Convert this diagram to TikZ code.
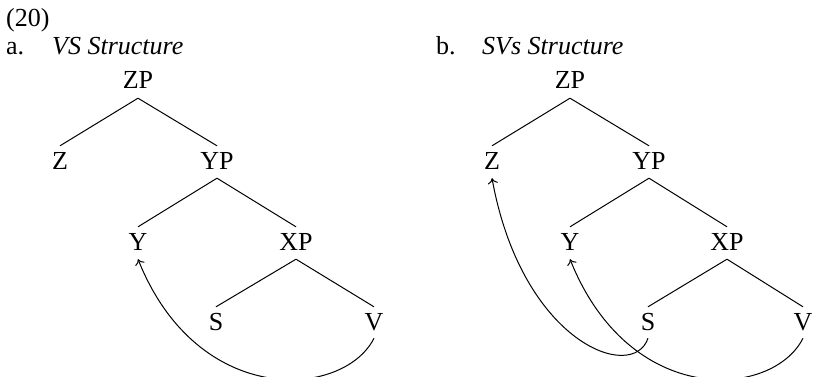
\documentclass[tikz,border=0pt]{standalone}
\usepackage{fontspec}
\setmainfont{Liberation Serif}
\usetikzlibrary{arrows.meta}
\begin{document}
\begin{tikzpicture}[x=1pt,y=-1pt,
  every node/.style={font=\fontsize{26}{31}\selectfont},
  lbl/.style={anchor=base, inner sep=0pt, text height=17pt, text depth=0pt},
  txt/.style={anchor=base west, inner sep=0pt},
  branch/.style={line width=1pt},
  move/.style={line width=1pt, -{To[length=5.5pt,width=10pt]}}]
\useasboundingbox (0,0) rectangle (814,377);
% headings
\node[txt] (num) at (6,27) {(20)};
\node[txt] (la) at (6,55) {a.};
\node[txt] (ta) at (52,55) {\itshape VS Structure};
\node[txt] (lb) at (436,55) {b.};
\node[txt] (tb) at (482,55) {\itshape SVs Structure};
% tree a
\node[lbl] (aZP) at (138,89) {ZP};
\node[lbl] (aZ)  at (60,169) {Z};
\node[lbl] (aYP) at (217,169) {YP};
\node[lbl] (aY)  at (138,250) {Y};
\node[lbl] (aXP) at (296,250) {XP};
\node[lbl] (aS)  at (216,330) {S};
\node[lbl] (aV)  at (374,330) {V};
\draw[branch] ([yshift=-9pt]aZP.south) -- ([yshift=6pt]aZ.north);
\draw[branch] ([yshift=-9pt]aZP.south) -- ([yshift=6pt]aYP.north);
\draw[branch] ([yshift=-9pt]aYP.south) -- ([yshift=6pt]aY.north);
\draw[branch] ([yshift=-9pt]aYP.south) -- ([yshift=6pt]aXP.north);
\draw[branch] ([yshift=-9pt]aXP.south) -- ([yshift=6pt]aS.north);
\draw[branch] ([yshift=-9pt]aXP.south) -- ([yshift=6pt]aV.north);
\draw[move] ([yshift=-8pt]aV.south) .. controls +(-30,60) and +(60,150) .. ([yshift=-9pt]aY.south);
% tree b
\node[lbl] (bZP) at (570,89) {ZP};
\node[lbl] (bZ)  at (492,169) {Z};
\node[lbl] (bYP) at (649,169) {YP};
\node[lbl] (bY)  at (570,250) {Y};
\node[lbl] (bXP) at (727,250) {XP};
\node[lbl] (bS)  at (648,330) {S};
\node[lbl] (bV)  at (803,330) {V};
\draw[branch] ([yshift=-9pt]bZP.south) -- ([yshift=6pt]bZ.north);
\draw[branch] ([yshift=-9pt]bZP.south) -- ([yshift=6pt]bYP.north);
\draw[branch] ([yshift=-9pt]bYP.south) -- ([yshift=6pt]bY.north);
\draw[branch] ([yshift=-9pt]bYP.south) -- ([yshift=6pt]bXP.north);
\draw[branch] ([yshift=-9pt]bXP.south) -- ([yshift=6pt]bS.north);
\draw[branch] ([yshift=-9pt]bXP.south) -- ([yshift=6pt]bV.north);
\draw[move] ([yshift=-8pt]bV.south) .. controls +(-30,60) and +(60,150) .. ([yshift=-9pt]bY.south);
\draw[move] ([yshift=-8pt]bS.south) .. controls +(-15,45) and +(30,165) .. ([yshift=-9pt]bZ.south);
\end{tikzpicture}
\end{document}
